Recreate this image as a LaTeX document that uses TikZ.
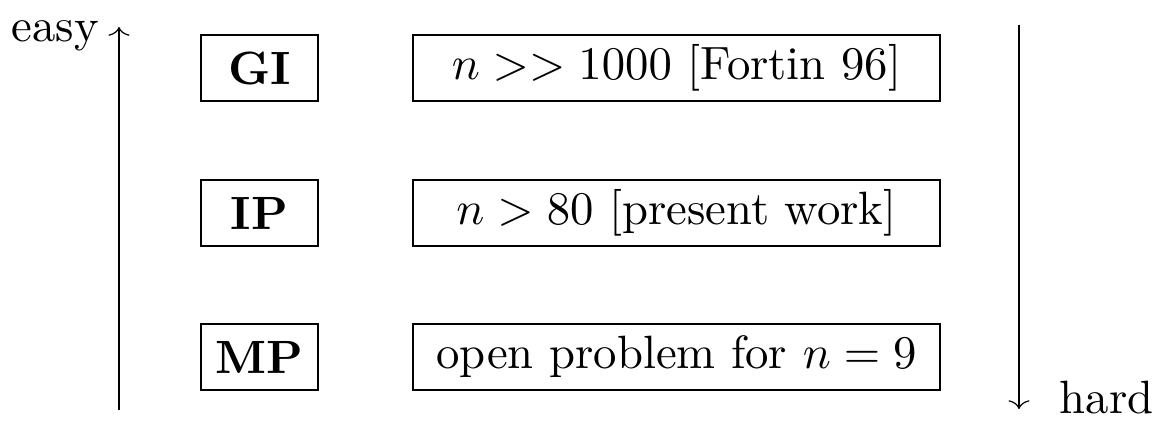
\documentclass[tikz,border=0pt]{standalone}
\usetikzlibrary{arrows.meta}
\begin{document}
\begin{tikzpicture}[x=0.02cm,y=-0.02cm,
  every node/.style={scale=2.66},
  lbl/.style={draw,line width=1.6pt,minimum height=0.496cm,inner sep=0pt},
  problem/.style={lbl,minimum width=0.88cm},
  bound/.style={lbl,minimum width=3.962cm},
  tag/.style={inner sep=0pt},
  trend/.style={line width=0.7pt,-{To[length=5pt,width=12pt]}}]
  \useasboundingbox (0,0) rectangle (1155,423);
  % problems and what is known
  \node[problem] (gi) at (259.5,68) {\textbf{GI}};
  \node[bound] (gib) at (676.5,68) {$n >> 1000$ [Fortin 96]};
  \node[problem] (ip) at (259.5,213) {\textbf{IP}};
  \node[bound] (ipb) at (676.5,213) {$n > 80$ [present work]};
  \node[problem] (mp) at (259.5,357) {\textbf{MP}};
  \node[bound] (mpb) at (676.5,357) {open problem for $n = 9$};
  % easy / hard
  \coordinate (ebot) at (119,410);
  \coordinate (etop) at (119,27);
  \draw[trend] (ebot) -- (etop);
  \node[tag,anchor=base east] (easy) at (100,41) {easy};
  \coordinate (htop) at (1019,25);
  \coordinate (hbot) at (1019,409);
  \draw[trend] (htop) -- (hbot);
  \node[tag,anchor=base west] (hard) at (1059,413) {hard};
\end{tikzpicture}
\end{document}
